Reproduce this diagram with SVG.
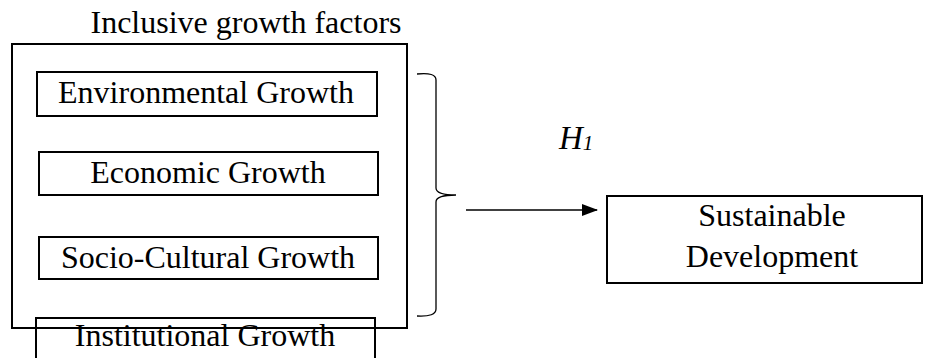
<svg xmlns="http://www.w3.org/2000/svg" width="946" height="358" viewBox="0 0 946 358">
<defs>
<style>
.box{fill:none;stroke:#000;stroke-width:2}
.t{font-family:"Liberation Serif","Times New Roman",serif;font-size:32px;fill:#000;text-anchor:middle}
.ln{fill:none;stroke:#000;stroke-width:1.3}
</style>
<marker id="ah" markerWidth="16" markerHeight="12" refX="15" refY="6" orient="auto" markerUnits="userSpaceOnUse">
<path d="M0,0 L16,6 L0,12 Z" fill="#000"/>
</marker>
</defs>
<rect width="946" height="358" fill="#fff"/>
<g id="group-inclusive">
<text class="t" x="246" y="33">Inclusive growth factors</text>
<rect class="box" x="12" y="44" width="395" height="284"/>
</g>
<g id="node-environmental">
<rect class="box" x="37" y="72" width="340" height="44"/>
<text class="t" x="206" y="103">Environmental Growth</text>
</g>
<g id="node-economic">
<rect class="box" x="39" y="152" width="339" height="43"/>
<text class="t" x="208" y="183">Economic Growth</text>
</g>
<g id="node-sociocultural">
<rect class="box" x="39" y="237" width="339" height="42"/>
<text class="t" x="208" y="268">Socio-Cultural Growth</text>
</g>
<g id="node-institutional">
<rect class="box" x="36" y="318" width="339" height="50"/>
<text class="t" x="205" y="346">Institutional Growth</text>
</g>
<g id="node-sustainable">
<rect class="box" x="607" y="196" width="315" height="87"/>
<text class="t" x="772" y="226">Sustainable</text>
<text class="t" x="772" y="267">Development</text>
</g>
<g id="connectors">
<path class="ln" d="M417,74 Q436,72 436,80 L436,188 Q436,195 456,195 Q436,195 436,202 L436,309 Q436,317 417,316"/>
<line class="ln" x1="466" y1="210" x2="597" y2="210" marker-end="url(#ah)"/>
<text x="559" y="149" style="font-family:'Liberation Serif','Times New Roman',serif;font-size:33px;font-style:italic">H<tspan font-size="21" dy="1">1</tspan></text>
</g>
</svg>
